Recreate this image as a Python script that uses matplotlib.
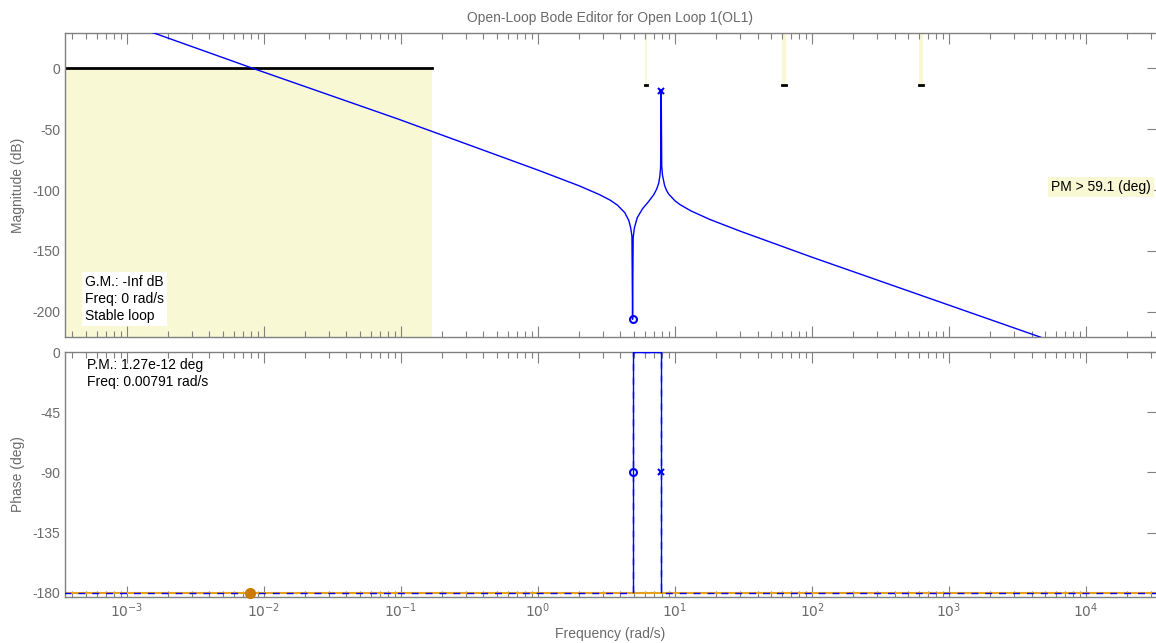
import numpy as np
import matplotlib as mpl
mpl.use('Agg')
import matplotlib.pyplot as plt
from matplotlib.ticker import LogLocator, NullFormatter

plt.rcParams['font.family'] = ['Liberation Sans', 'DejaVu Sans']
plt.rcParams['axes.unicode_minus'] = False

# magnitude curve (rad/s, dB)
mag_freq = [3.47e-4, 0.00817, 0.0951, 1.0, 2.0, 2.8, 3.36, 3.8, 4.3, 4.6, 4.75, 4.85,
            4.9, 4.95, 5.05, 5.3, 5.8, 6.4, 7.0, 7.35, 7.6, 7.75, 7.85, 7.93,
            8.0, 8.1, 8.4, 8.69, 9.0, 10.0, 10.86, 13.0, 18.0, 30.0, 100.0, 4613, 3.3e4]
mag_db = [55, 0, -41.8, -83.7, -96.6, -103.7, -108.3, -112.4, -118.6, -125.0, -131.1, -138,
          -206, -139, -131.2, -122.7, -115.3, -109.6, -103.8, -99.2, -94.5, -88.6, -81.4, -19,
          -80.2, -87.8, -96.5, -100.5, -103.4, -108.9, -111.9, -117.0, -124.2, -133.8, -155.1,
          -220.5, -254]

# phase curve (rad/s, deg)
ph_freq = [3.47e-4, 4.9, 4.9, 7.93, 7.93, 3.3e4]
ph_deg = [-180, -180, 0, 0, -180, -180]

# compensator zero / pole markers
zero_f, zero_mag, zero_ph = 4.9, -206, -90
pole_f, pole_mag, pole_ph = 7.93, -19, -90

# gain margin region and bound strips
gm_edge = 0.168
strip_f = [6.14, 62.5, 625]
strip_w = [0.009, 0.012, 0.012]
strip_bottom = -13.7

pm_freq = 0.00791

freq_ticks = [1e-3, 1e-2, 1e-1, 1e0, 1e1, 1e2, 1e3, 1e4]
freq_labels = ['$10^{-3}$', '$10^{-2}$', '$10^{-1}$', '$10^{0}$', '$10^{1}$',
               '$10^{2}$', '$10^{3}$', '$10^{4}$']

xlim = (3.53e-4, 3.24e4)
mag_lim = (-220.5, 28.7)
ph_lim = (-183.2, 0)

gray = '#808080'
txtgray = '#6a6a6a'
fill = '#f8f8d4'

fig = plt.figure(figsize=(11.56, 6.43), dpi=100)
ax1 = fig.add_axes([65/1156, 1-337/643, 1091/1156, 304/643])
ax2 = fig.add_axes([65/1156, 1-597/643, 1091/1156, 245/643])

for ax in (ax1, ax2):
    ax.set_xscale('log')
    ax.set_xticks(freq_ticks)
    ax.set_xticklabels(freq_labels)
    ax.xaxis.set_minor_locator(LogLocator(base=10, subs=np.arange(2, 10), numticks=20))
    ax.xaxis.set_minor_formatter(NullFormatter())
    ax.set_xlim(*xlim)
    for s in ('top', 'bottom', 'left'):
        ax.spines[s].set_color(gray)
        ax.spines[s].set_linewidth(1.0)
    ax.spines['right'].set_visible(False)
    ax.tick_params(axis='x', which='both', direction='in', top=True, bottom=True,
                   colors=gray, labelcolor=txtgray, labelsize=10, width=0.8)
    ax.tick_params(axis='x', which='major', length=8)
    ax.tick_params(axis='x', which='minor', length=4.3)
    ax.tick_params(axis='y', which='major', direction='in', left=False, right=True,
                   labelleft=True, length=6.5, width=0.8, colors=gray,
                   labelcolor=txtgray, labelsize=10)

# magnitude
ax1.set_ylim(*mag_lim)
ax1.set_yticks([0, -50, -100, -150, -200])
ax1.tick_params(axis='x', labelbottom=False)
ax1.fill_between([xlim[0], gm_edge], [0, 0], mag_lim[0], color=fill, lw=0, zorder=0)
ax1.plot([xlim[0], gm_edge], [0, 0], color='black', lw=2, zorder=2)
for f, w in zip(strip_f, strip_w):
    ax1.fill_between([f*10**(-w), f*10**w], strip_bottom, mag_lim[1], color=fill, lw=0, zorder=0)
    ax1.plot([f*10**(-w), f*10**w], [strip_bottom, strip_bottom], color='black', lw=2, zorder=2)
ax1.plot(mag_freq, mag_db, color='#0000ff', lw=1, zorder=3)
ax1.plot(zero_f, zero_mag, 'o', mfc='none', mec='#0000ff', ms=5, mew=1.5, zorder=4)
ax1.plot(pole_f, pole_mag, 'x', color='#0000ff', ms=5, mew=1.5, zorder=4)
ax1.text(0.0183, 0.205, 'G.M.: -Inf dB\nFreq: 0 rad/s\nStable loop', transform=ax1.transAxes,
         ha='left', va='top', fontsize=10, color='black', linespacing=1.3,
         bbox=dict(facecolor='white', edgecolor='none', pad=2))
ax1.text(0.904, 0.493, 'PM > 59.1 (deg)', transform=ax1.transAxes, ha='left', va='center',
         fontsize=10, color='black', clip_on=False,
         bbox=dict(facecolor=fill, edgecolor='none', pad=2))

# phase
ax2.set_ylim(*ph_lim)
ax2.set_yticks([0, -45, -90, -135, -180])
ax2.axhline(-180, color='#e8a020', lw=1.5, zorder=2)
ax2.plot(ph_freq, ph_deg, color='#0000ff', lw=1, dashes=(5, 5), zorder=3)
ax2.plot(ph_freq[1:5], [-179.5, 0, 0, -179.5], color='#0000ff', lw=1, zorder=3)
ax2.plot(zero_f, zero_ph, 'o', mfc='none', mec='#0000ff', ms=5, mew=1.5, zorder=4)
ax2.plot(pole_f, pole_ph, 'x', color='#0000ff', ms=5, mew=1.5, zorder=4)
ax2.plot(pm_freq, -180, 'o', color='#cc7a00', ms=7, zorder=5, clip_on=False)
ax2.text(0.02, 0.975, 'P.M.: 1.27e-12 deg\nFreq: 0.00791 rad/s', transform=ax2.transAxes,
         ha='left', va='top', fontsize=10, color='black', linespacing=1.3)

fig.text(610/1156, 1-18/643, 'Open-Loop Bode Editor for Open Loop 1(OL1)', ha='center',
         va='center', fontsize=10, color=txtgray)
fig.text(18/1156, 1-185/643, 'Magnitude (dB)', rotation=90, ha='center', va='center',
         fontsize=10, color=txtgray)
fig.text(18/1156, 1-474/643, 'Phase (deg)', rotation=90, ha='center', va='center',
         fontsize=10, color=txtgray)
fig.text(610/1156, 1-634/643, 'Frequency (rad/s)', ha='center', va='center',
         fontsize=10, color=txtgray)

fig.savefig('out.png', dpi=100)
